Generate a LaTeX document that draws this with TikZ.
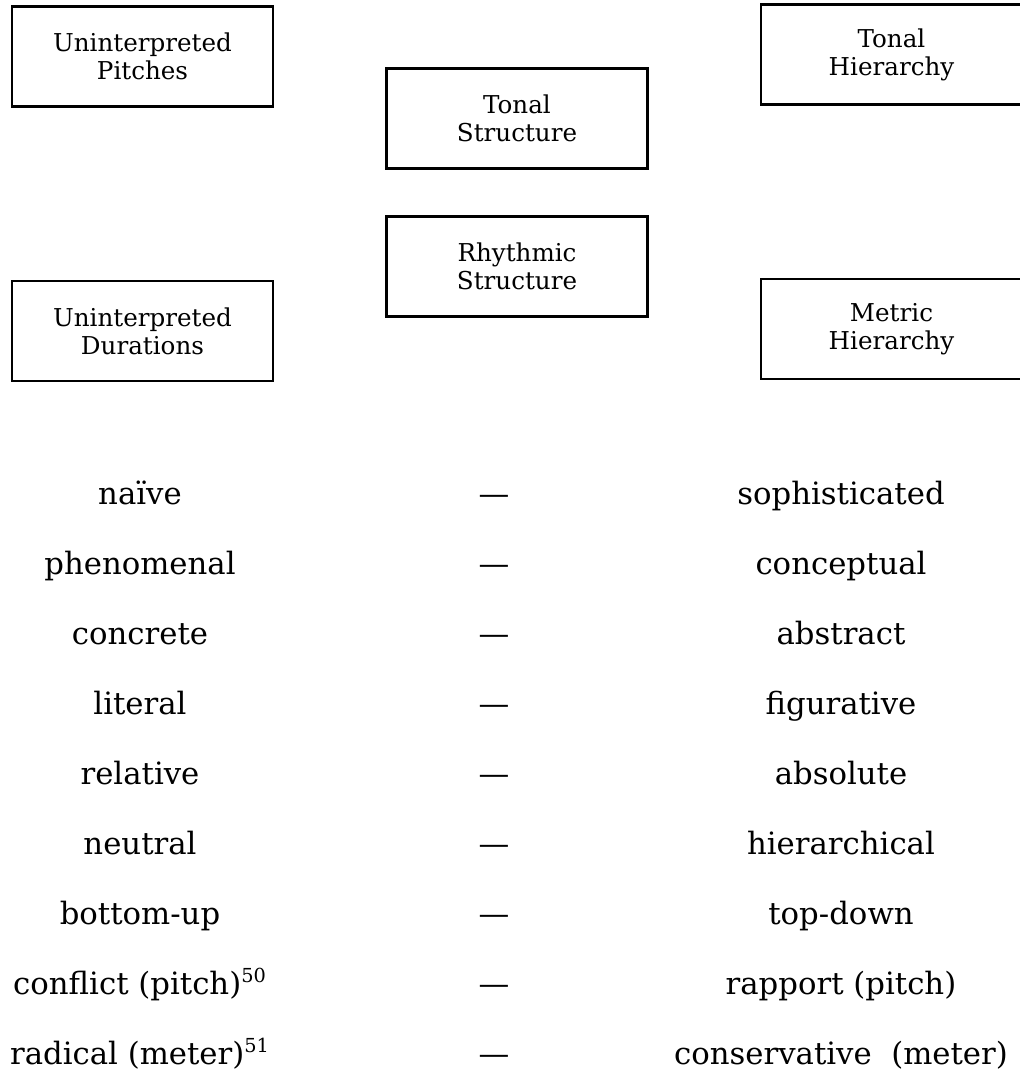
\documentclass[tikz,border=0pt]{standalone}
\usepackage{fontspec}
\setmainfont{DejaVu Serif}
\usepackage{tikz}

\begin{document}
\begin{tikzpicture}[x=0.02cm, y=-0.02cm,
    level/.style={draw, line width=1.4pt, minimum width=5.22cm, minimum height=2cm,
        inner sep=0pt, align=center, font=\fontsize{14}{16}\selectfont},
    term/.style={anchor=base, inner sep=0pt, font=\fontsize{17.5}{20}\selectfont}]
    \useasboundingbox (0,0) rectangle (1019,1073);
    \node[level] (pitches) at (142.5,56.5) {Uninterpreted\\Pitches};
    \node[level] (tonal) at (517,118.5) {Tonal\\Structure};
    \node[level] (tonalh) at (891.5,54.5) {Tonal\\Hierarchy};
    \node[level] (rhythm) at (517,266.5) {Rhythmic\\Structure};
    \node[level] (durations) at (142.5,331) {Uninterpreted\\Durations};
    \node[level] (metric) at (891.5,329) {Metric\\Hierarchy};
    \foreach \a/\b [count=\i from 0] in {naïve/sophisticated, phenomenal/conceptual,
        concrete/abstract, literal/figurative, relative/absolute, neutral/hierarchical,
        bottom-up/top-down, conflict (pitch)\textsuperscript{\fontsize{11}{12}\selectfont 50}/rapport (pitch),
        radical (meter)\textsuperscript{\fontsize{11}{12}\selectfont 51}/conservative\ \ (meter)} {
        \node[term] (l\i) at (140,{504+70*\i}) {\a};
        \node[term] (d\i) at (494,{504+70*\i}) {—};
        \node[term] (r\i) at (841,{504+70*\i}) {\b};
    }
\end{tikzpicture}
\end{document}
